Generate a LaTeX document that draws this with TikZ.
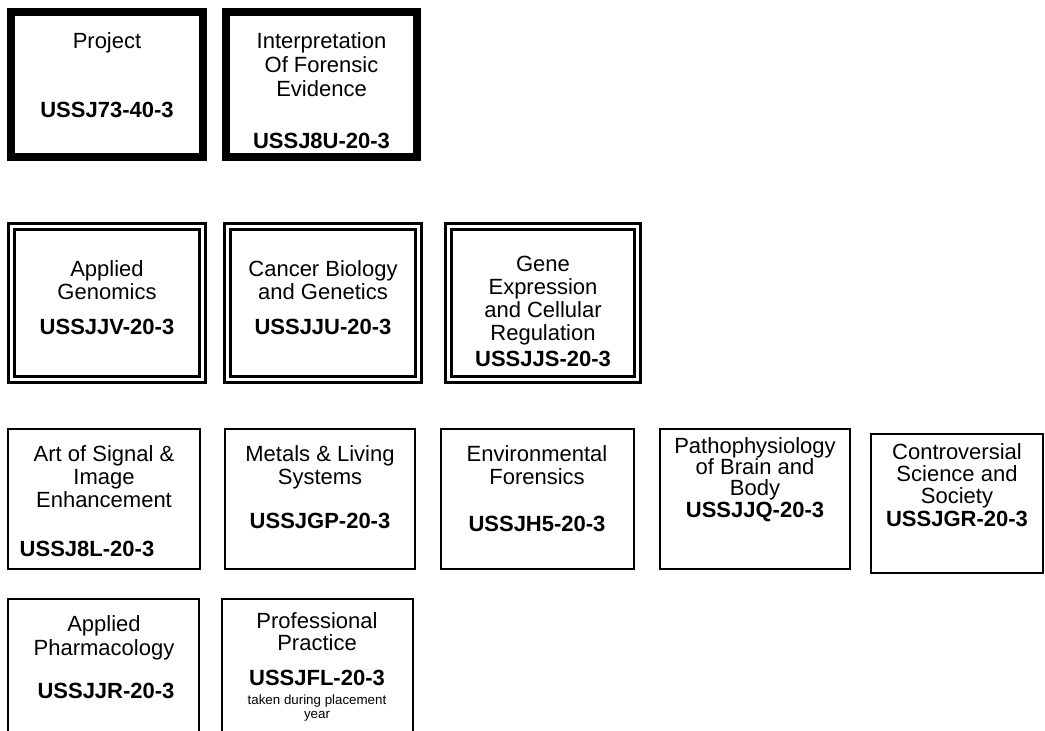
\documentclass[tikz,border=0pt]{standalone}
\usepackage{fontspec}
\setmainfont{Liberation Sans}
\usetikzlibrary{positioning}

\tikzset{
  modbox/.style 2 args={rectangle, outer sep=0pt, inner sep=0pt,
    minimum width=#1*0.75pt, minimum height=#2*0.75pt},
  corebox/.style={draw, line width=6pt},
  optbox/.style={draw, line width=2.4pt, double, double distance=1.8pt},
  plainbox/.style={draw, line width=1.5pt},
  title/.style={anchor=north, inner sep=0pt, align=center,
    font=\fontsize{16.5}{#1}\selectfont},
  title/.default=18,
  code/.style={anchor=north, inner sep=0pt, font=\fontsize{16.5}{18}\selectfont\bfseries},
  note/.style={anchor=north, inner sep=0pt, align=center,
    font=\fontsize{10}{10}\selectfont}
}

\begin{document}
\begin{tikzpicture}[x=0.75pt,y=-0.75pt]
  \useasboundingbox (0,0) rectangle (1045,731);
  \clip (0,0) rectangle (1045,731);

  % core modules
  \node[modbox={192}{145}, corebox] (proj) at (107,84.5) {};
  \node[modbox={191}{145}, corebox] (interp) at (321.5,84.5) {};
  \node[title] (projT) at (107,32) {Project};
  \node[code] (projC) at (107,102) {USSJ73-40-3};
  \node[title] (interpT) at (321.5,32) {Interpretation\\Of Forensic\\Evidence};
  \node[code] (interpC) at (321.5,133) {USSJ8U-20-3};

  % first option group
  \node[modbox={191.2}{153.2}, optbox] (genom) at (107,303) {};
  \node[modbox={191.2}{153.2}, optbox] (cancer) at (323,303) {};
  \node[modbox={189.2}{153.2}, optbox] (gene) at (543,303) {};
  \node[title=17.25] (genomT) at (107,260) {Applied\\Genomics};
  \node[code] (genomC) at (107,319) {USSJJV-20-3};
  \node[title=17.25] (cancerT) at (323,260) {Cancer Biology\\and Genetics};
  \node[code] (cancerC) at (323,319) {USSJJU-20-3};
  \node[title=17.25] (geneT) at (543,256) {Gene\\Expression\\and Cellular\\Regulation};
  \node[code] (geneC) at (543,351) {USSJJS-20-3};

  % second option group
  \node[modbox={192}{140}, plainbox] (art) at (104,499) {};
  \node[modbox={190}{140}, plainbox] (metals) at (320,499) {};
  \node[modbox={193}{140}, plainbox] (envir) at (537.5,499) {};
  \node[modbox={190}{140}, plainbox] (patho) at (755,499) {};
  \node[modbox={172}{139}, plainbox] (contro) at (957,503.5) {};
  \node[title=17.25] (artT) at (104,445) {Art of Signal \&\\Image\\Enhancement};
  \node[code] (artC) at (87,541) {USSJ8L-20-3};
  \node[title=17.25] (metalsT) at (320,445) {Metals \& Living\\Systems};
  \node[code] (metalsC) at (320,513) {USSJGP-20-3};
  \node[title=17.25] (envirT) at (537,445) {Environmental\\Forensics};
  \node[code] (envirC) at (537,516) {USSJH5-20-3};
  \node[title=15.75] (pathoT) at (755,437) {Pathophysiology\\of Brain and\\Body};
  \node[code] (pathoC) at (755,502) {USSJJQ-20-3};
  \node[title=16.5] (controT) at (957,443) {Controversial\\Science and\\Society};
  \node[code] (controC) at (957,511) {USSJGR-20-3};

  % last row
  \node[modbox={191}{161}, plainbox] (pharm) at (103.5,679.5) {};
  \node[modbox={191}{161}, plainbox] (prof) at (317.5,679.5) {};
  \node[title] (pharmT) at (104,615) {Applied\\Pharmacology};
  \node[code] (pharmC) at (106,683) {USSJJR-20-3};
  \node[title=16.5] (profT) at (317,612) {Professional\\Practice};
  \node[code] (profC) at (317,670) {USSJFL-20-3};
  \node[note] (profN) at (317,695) {taken during placement\\year};
\end{tikzpicture}
\end{document}
